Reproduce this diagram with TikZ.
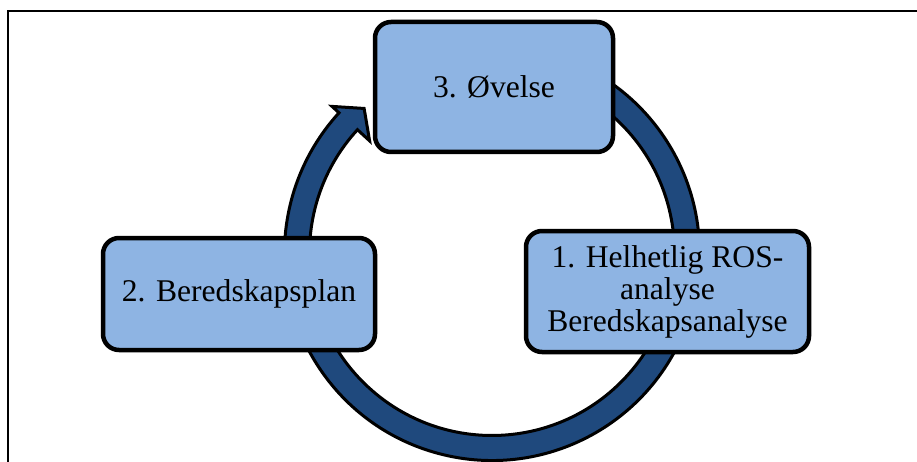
\documentclass[tikz,border=0pt]{standalone}
\usepackage{fontspec}
\setmainfont{Liberation Serif}
\definecolor{boxfill}{HTML}{8EB4E3}
\definecolor{ringfill}{HTML}{1F497D}
\begin{document}
\begin{tikzpicture}[x=1pt,y=1pt,
  stagebox/.style={draw=black, line width=4.5pt, fill=boxfill, rounded corners=16pt, inner sep=0pt, align=center, font=\fontsize{31.6}{32}\selectfont},
  ringstyle/.style={draw=black, line width=3pt, fill=ringfill, line join=miter}]
\useasboundingbox (0,0) rectangle (917,461);
\clip (0,0) rectangle (917,461);
\fill[white] (0,0) rectangle (917,461);
\draw[line width=2pt] (8,-20) -- (8,450) -- (940,450);
\coordinate (c) at (492,208);
\draw[ringstyle, shift={(c)}] (75:207.5) arc[start angle=75, end angle=-222.5, radius=207.5]
  -- (137.5:217) -- (131.5:193) -- (137.5:166) -- (137.5:182.5)
  arc[start angle=137.5, end angle=435, radius=182.5] -- cycle;
\node[stagebox, minimum width=238pt, minimum height=130pt] (ovelse) at (494,374) {3. Øvelse};
\node[stagebox, minimum width=272pt, minimum height=112pt] (plan) at (239,167) {2. Beredskapsplan};
\node[stagebox, minimum width=283pt, minimum height=121pt] (ros) at (667.5,169.5) {1. Helhetlig ROS-\\analyse\\Beredskapsanalyse};
\end{tikzpicture}
\end{document}
